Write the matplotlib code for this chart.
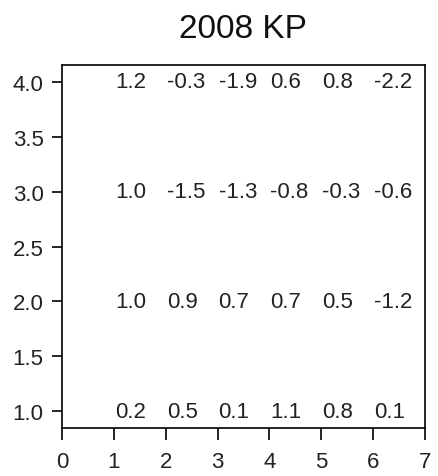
import matplotlib
matplotlib.use('Agg')
import matplotlib.pyplot as plt

plt.rcParams['font.family'] = ['Liberation Sans', 'DejaVu Sans']

# values per row (y level), columns x = 1..6
columns = [1, 2, 3, 4, 5, 6]
row_levels = [4, 3, 2, 1]
row_4 = [1.2, -0.3, -1.9, 0.6, 0.8, -2.2]
row_3 = [1.0, -1.5, -1.3, -0.8, -0.3, -0.6]
row_2 = [1.0, 0.9, 0.7, 0.7, 0.5, -1.2]
row_1 = [0.2, 0.5, 0.1, 1.1, 0.8, 0.1]
rows = [row_4, row_3, row_2, row_1]

x_ticks = [0, 1, 2, 3, 4, 5, 6, 7]
y_ticks = [1.0, 1.5, 2.0, 2.5, 3.0, 3.5, 4.0]

fig = plt.figure(figsize=(4.38, 4.77), dpi=100)
ax = fig.add_axes([62 / 438, 1 - 429 / 477, 363 / 438, 363 / 477])

for y, vals in zip(row_levels, rows):
    for x, v in zip(columns, vals):
        ax.text(x + 0.02, y, f'{v:.1f}', ha='left', va='center',
                fontsize=16, color='#222222')

ax.set_xlim(0, 7)
ax.set_ylim(0.845, 4.155)
ax.set_xticks(x_ticks)
ax.set_yticks(y_ticks)
ax.set_yticklabels([f'{t:.1f}' for t in y_ticks])
ax.tick_params(axis='both', labelsize=16, labelcolor='#222222', width=1.2)
ax.tick_params(axis='y', length=7.2, pad=6)
ax.tick_params(axis='x', length=8.6, pad=8)
for s in ax.spines.values():
    s.set_linewidth(1.2)

fig.text(243 / 438, 1 - 29 / 477, '2008 KP', ha='center', va='center',
         fontsize=24, color='#111111')

fig.savefig('out.png', dpi=100)
